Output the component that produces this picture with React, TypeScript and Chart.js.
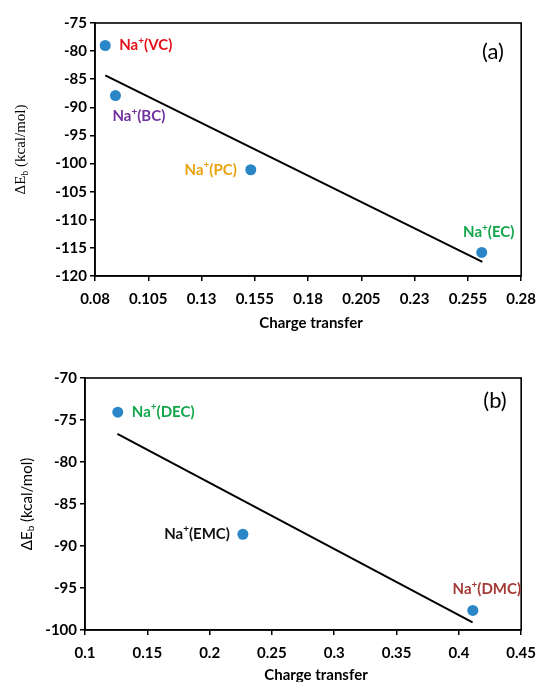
import React, { useEffect, useRef } from "react";
import { Chart, registerables } from "chart.js";
Chart.register(...registerables);

// ---------- Panel (a) data ----------
const aNames = ["Na⁺(VC)", "Na⁺(BC)", "Na⁺(PC)", "Na⁺(EC)"];
const aCharge = [0.0848, 0.0896, 0.1531, 0.2615];
const aEnergy = [-79.0, -87.9, -101.1, -115.8];
const aFitCharge = [0.0848, 0.2618];
const aFitEnergy = [-84.3, -117.5];
const aXTicks = [0.08, 0.105, 0.13, 0.155, 0.18, 0.205, 0.23, 0.255, 0.28];
const aYTicks = [-75, -80, -85, -90, -95, -100, -105, -110, -115, -120];

// ---------- Panel (b) data ----------
const bNames = ["Na⁺(DEC)", "Na⁺(EMC)", "Na⁺(DMC)"];
const bCharge = [0.1263, 0.2267, 0.4112];
const bEnergy = [-74.07, -88.6, -97.67];
const bFitCharge = [0.126, 0.411];
const bFitEnergy = [-76.66, -99.1];
const bXTicks = [0.1, 0.15, 0.2, 0.25, 0.3, 0.35, 0.4, 0.45];
const bYTicks = [-70, -75, -80, -85, -90, -95, -100];

const xTitle = "Charge transfer";
const W = 545;
const SANS = "Lato, 'Open Sans', sans-serif";
const POINT_COLOR = "#2B86C8";

type LabelStyle = { color: string; align: CanvasTextAlign; dx: number; dy: number };

const aLabelStyles: LabelStyle[] = [
  { color: "#E3101B", align: "left", dx: 14, dy: 0 },
  { color: "#7030A0", align: "left", dx: -3, dy: 21 },
  { color: "#E9A20E", align: "right", dx: -14, dy: 0 },
  { color: "#14A64B", align: "center", dx: 7, dy: -20 },
];
const bLabelStyles: LabelStyle[] = [
  { color: "#14A64B", align: "left", dx: 14, dy: 0 },
  { color: "#111111", align: "right", dx: -13, dy: 0 },
  { color: "#A33A36", align: "center", dx: 14, dy: -21 },
];

type Panel = {
  names: string[];
  xs: number[];
  ys: number[];
  fitX: number[];
  fitY: number[];
  xTicks: number[];
  yTicks: number[];
  labelStyles: LabelStyle[];
  letter: string;
  letterPos: [number, number];
  height: number;
  area: { left: number; right: number; top: number; bottom: number };
  xTitlePos: [number, number];
  yTitleX: number;
  yTitleFont: string;
  yTitleSubFont: string;
};

function drawNaLabel(ctx: CanvasRenderingContext2D, text: string, x: number, y: number, align: CanvasTextAlign, color: string) {
  const main = `bold 15px ${SANS}`;
  const sup = `bold 10px ${SANS}`;
  const parts = text.split("⁺");
  ctx.font = main;
  const w1 = ctx.measureText(parts[0]).width;
  const w3 = ctx.measureText(parts[1] || "").width;
  ctx.font = sup;
  const w2 = ctx.measureText("+").width;
  const total = w1 + w2 + w3;
  let sx = x;
  if (align === "center") sx = x - total / 2;
  else if (align === "right") sx = x - total;
  ctx.fillStyle = color;
  ctx.textAlign = "left";
  ctx.textBaseline = "middle";
  ctx.font = main;
  ctx.fillText(parts[0], sx, y);
  ctx.font = sup;
  ctx.fillText("+", sx + w1, y - 5);
  ctx.font = main;
  ctx.fillText(parts[1] || "", sx + w1 + w2, y);
}

function makePlugin(p: Panel) {
  return {
    id: "panelDecor",
    afterDatasetsDraw(chart: any) {
      const { ctx, chartArea } = chart;
      ctx.save();
      ctx.strokeStyle = "#000";
      ctx.lineWidth = 1.6;
      ctx.strokeRect(chartArea.left, chartArea.top, chartArea.right - chartArea.left, chartArea.bottom - chartArea.top);
      ctx.restore();
    },
    afterDraw(chart: any) {
      const { ctx, chartArea } = chart;
      const xs = chart.scales.x;
      const ys = chart.scales.y;
      ctx.save();
      // point labels
      p.names.forEach((name, i) => {
        const st = p.labelStyles[i];
        const px = xs.getPixelForValue(p.xs[i]);
        const py = ys.getPixelForValue(p.ys[i]);
        drawNaLabel(ctx, name, px + st.dx, py + st.dy, st.align, st.color);
      });
      // panel letter
      ctx.fillStyle = "#000";
      ctx.font = `22px ${SANS}`;
      ctx.textAlign = "center";
      ctx.textBaseline = "middle";
      ctx.fillText(p.letter, p.letterPos[0], p.letterPos[1]);
      // x title
      ctx.font = `bold 15px ${SANS}`;
      ctx.fillText(xTitle, p.xTitlePos[0], p.xTitlePos[1]);
      // y title with subscript
      const cy = (chartArea.top + chartArea.bottom) / 2;
      ctx.translate(p.yTitleX, cy);
      ctx.rotate(-Math.PI / 2);
      ctx.textAlign = "left";
      ctx.textBaseline = "middle";
      ctx.font = p.yTitleFont;
      const s1 = "ΔE";
      const s3 = " (kcal/mol)";
      const w1 = ctx.measureText(s1).width;
      const w3 = ctx.measureText(s3).width;
      ctx.font = p.yTitleSubFont;
      const w2 = ctx.measureText("b").width;
      let sx = -(w1 + w2 + w3) / 2;
      ctx.font = p.yTitleFont;
      ctx.fillText(s1, sx, 0);
      ctx.font = p.yTitleSubFont;
      ctx.fillText("b", sx + w1, 4);
      ctx.font = p.yTitleFont;
      ctx.fillText(s3, sx + w1 + w2, 0);
      ctx.restore();
    },
  };
}

function PanelChart({ p, top }: { p: Panel; top: number }) {
  const ref = useRef<HTMLCanvasElement | null>(null);
  useEffect(() => {
    if (!ref.current) return;
    const H = p.height;
    const tickFont = { family: SANS, size: 15, weight: "bold" as const };
    const chart = new Chart(ref.current, {
      type: "scatter",
      data: {
        datasets: [
          {
            type: "line",
            data: p.fitX.map((x, i) => ({ x, y: p.fitY[i] })),
            borderColor: "#000",
            borderWidth: 2,
            pointRadius: 0,
            showLine: true,
            fill: false,
          } as any,
          {
            type: "scatter",
            data: p.xs.map((x, i) => ({ x, y: p.ys[i] })),
            backgroundColor: POINT_COLOR,
            borderColor: POINT_COLOR,
            pointRadius: 5.5,
            borderWidth: 0,
          },
        ],
      },
      options: {
        responsive: false,
        animation: false,
        devicePixelRatio: 1,
        layout: { padding: { left: 0, top: p.area.top, right: W - p.area.right, bottom: 0 } },
        plugins: { legend: { display: false }, tooltip: { enabled: false } },
        scales: {
          x: {
            type: "linear",
            min: p.xTicks[0],
            max: p.xTicks[p.xTicks.length - 1],
            afterFit: (s: any) => {
              s.height = H - p.area.bottom;
            },
            afterBuildTicks: (s: any) => {
              s.ticks = p.xTicks.map((v) => ({ value: v }));
            },
            ticks: {
              font: tickFont,
              color: "#000",
              padding: 9,
              autoSkip: false,
              maxRotation: 0,
              callback: (v: any) => String(v),
            },
            grid: { display: true, drawOnChartArea: false, drawTicks: true, tickLength: 5, color: "#000", lineWidth: 1.5 },
            border: { display: true, color: "#000", width: 1.6 },
          },
          y: {
            type: "linear",
            min: p.yTicks[p.yTicks.length - 1],
            max: p.yTicks[0],
            afterFit: (s: any) => {
              s.width = p.area.left;
            },
            afterBuildTicks: (s: any) => {
              s.ticks = p.yTicks.map((v) => ({ value: v }));
            },
            ticks: {
              font: tickFont,
              color: "#000",
              padding: 3,
              autoSkip: false,
              callback: (v: any) => String(v),
            },
            grid: { display: true, drawOnChartArea: false, drawTicks: true, tickLength: 5, color: "#000", lineWidth: 1.5 },
            border: { display: true, color: "#000", width: 1.6 },
          },
        },
      },
      plugins: [makePlugin(p) as any],
    });
    return () => chart.destroy();
  }, [p]);
  return (
    <canvas
      ref={ref}
      width={W}
      height={p.height}
      style={{ position: "absolute", left: 0, top, width: W, height: p.height }}
    />
  );
}

const panelA: Panel = {
  names: aNames,
  xs: aCharge,
  ys: aEnergy,
  fitX: aFitCharge,
  fitY: aFitEnergy,
  xTicks: aXTicks,
  yTicks: aYTicks,
  labelStyles: aLabelStyles,
  letter: "(a)",
  letterPos: [493, 52],
  height: 340,
  area: { left: 95, right: 527, top: 23, bottom: 276 },
  xTitlePos: [311, 323],
  yTitleX: 21,
  yTitleFont: "15px 'Liberation Serif', 'DejaVu Serif', serif",
  yTitleSubFont: "10px 'Liberation Serif', 'DejaVu Serif', serif",
};

const panelB: Panel = {
  names: bNames,
  xs: bCharge,
  ys: bEnergy,
  fitX: bFitCharge,
  fitY: bFitEnergy,
  xTicks: bXTicks,
  yTicks: bYTicks,
  labelStyles: bLabelStyles,
  letter: "(b)",
  letterPos: [495, 61],
  height: 342,
  area: { left: 85, right: 523, top: 38, bottom: 290 },
  xTitlePos: [316, 335],
  yTitleX: 27,
  yTitleFont: `15px ${SANS}`,
  yTitleSubFont: `10px ${SANS}`,
};

export default function App() {
  return (
    <div style={{ position: "absolute", left: 0, top: 0, width: W, height: 682, background: "#fff", overflow: "hidden" }}>
      <PanelChart p={panelA} top={0} />
      <PanelChart p={panelB} top={340} />
    </div>
  );
}
